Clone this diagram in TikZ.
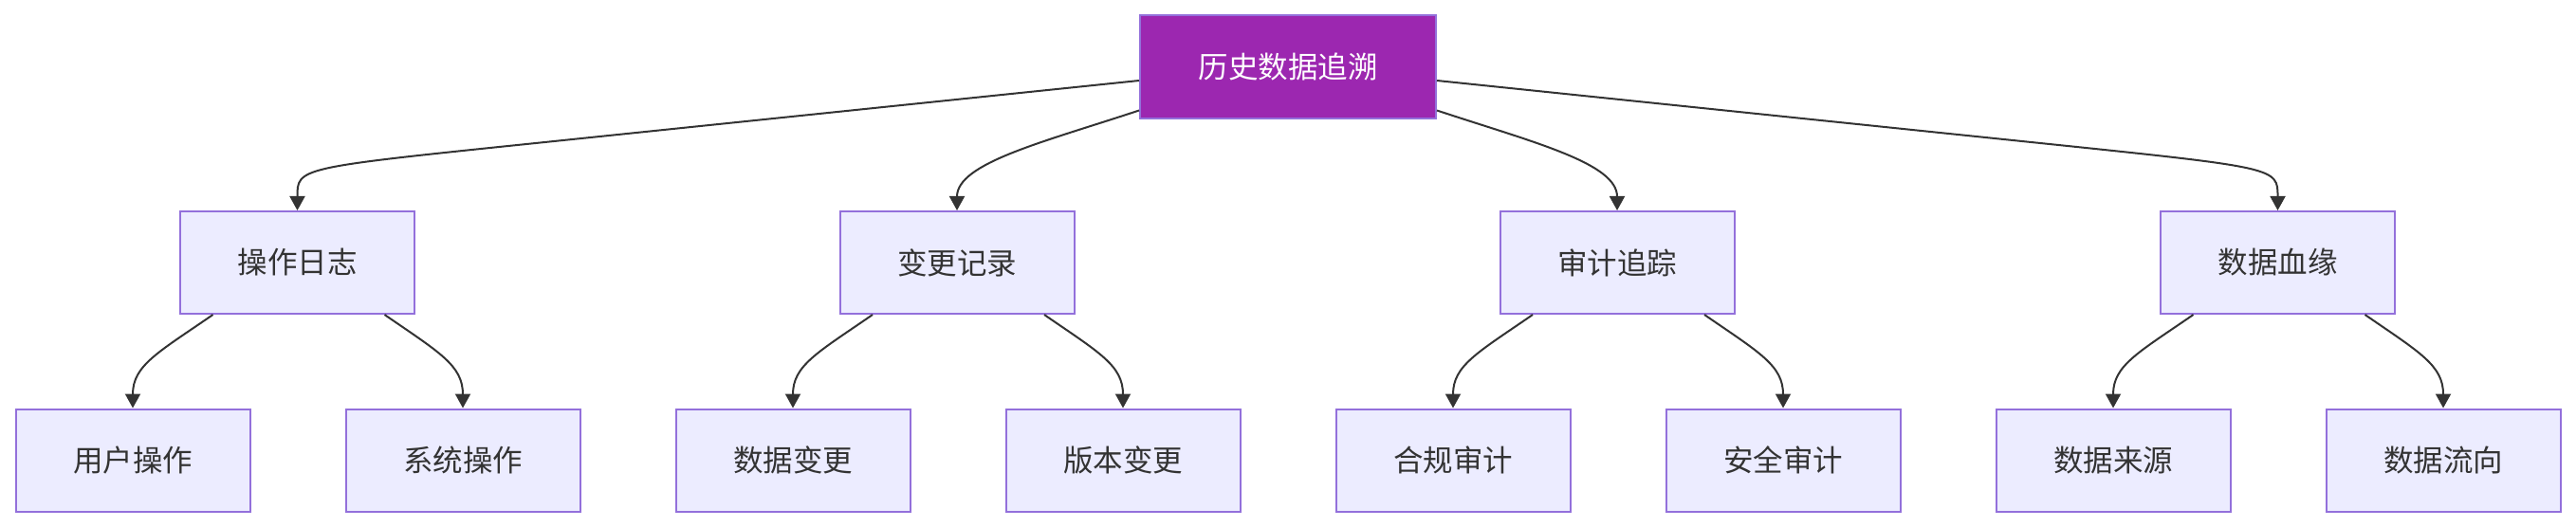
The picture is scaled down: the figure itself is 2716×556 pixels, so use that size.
\documentclass[tikz,border=0pt]{standalone}
\usepackage{fontspec}
\setmainfont{Noto Sans CJK SC}
\usetikzlibrary{arrows.meta}
\definecolor{nodefill}{HTML}{ECECFF}
\definecolor{nodeborder}{HTML}{9370DB}
\definecolor{rootfill}{HTML}{9C27B0}
\definecolor{ink}{HTML}{333333}
\begin{document}
\begin{tikzpicture}[x=1pt,y=-1pt,
  box/.style={draw=nodeborder, fill=nodefill, line width=2pt, minimum width=247pt, minimum height=108pt, inner sep=0pt, text=ink, font=\fontsize{31.5}{38}\selectfont},
  rootbox/.style={box, fill=rootfill, text=white, minimum width=312pt, minimum height=109pt},
  edge/.style={draw=ink, line width=2pt, -{Triangle[length=15pt,width=16pt]}}]
\useasboundingbox (0,0) rectangle (2716,556);
\node[rootbox] (r) at (1358,70.5) {历史数据追溯};
\node[box] (a) at (313.5,277) {操作日志};
\node[box] (b) at (1009,277) {变更记录};
\node[box] (c) at (1705,277) {审计追踪};
\node[box] (d) at (2401.5,277) {数据血缘};
\node[box] (a1) at (140,485.5) {用户操作};
\node[box] (a2) at (488,485.5) {系统操作};
\node[box] (b1) at (836,485.5) {数据变更};
\node[box] (b2) at (1184,485.5) {版本变更};
\node[box] (c1) at (1532,485.5) {合规审计};
\node[box] (c2) at (1880,485.5) {安全审计};
\node[box] (d1) at (2228,485.5) {数据来源};
\node[box] (d2) at (2576,485.5) {数据流向};
% root edges
\draw[edge] ([yshift=-14.5pt]r.west) -- (560,151.5) .. controls (313.5,177) .. (a.north);
\draw[edge] ([yshift=-46pt]r.west) .. controls (1100,150) and (1009,172) .. (b.north);
\draw[edge] ([yshift=-46pt]r.east) .. controls (1616,150) and (1705,172) .. (c.north);
\draw[edge] ([yshift=-14.5pt]r.east) -- (2156,151.5) .. controls (2401.5,177) .. (d.north);
% child edges
\foreach \p/\l/\rr in {a/a1/a2, b/b1/b2, c/c1/c2, d/d1/d2} {
  \draw[edge] ([xshift=-89pt]\p.south) .. controls +(-58,40) and +(0,-45) .. (\l.north);
  \draw[edge] ([xshift=92pt]\p.south) .. controls +(58,40) and +(0,-45) .. (\rr.north);
}
\end{tikzpicture}
\end{document}
